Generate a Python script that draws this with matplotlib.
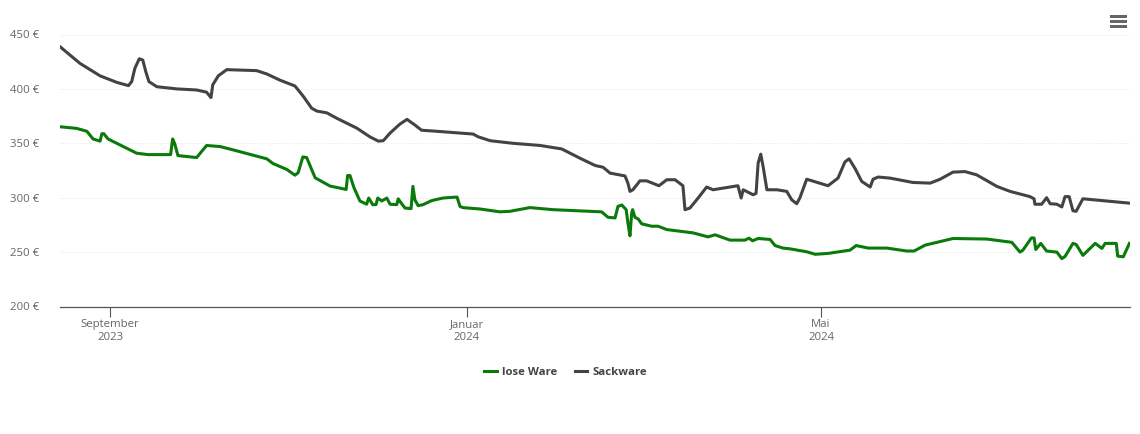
import matplotlib
matplotlib.use("Agg")
import matplotlib.pyplot as plt
import matplotlib.dates as mdates
from matplotlib.lines import Line2D
from matplotlib.patches import Rectangle
import pandas as pd

START = pd.Timestamp("2023-09-01")

sack_days = [-17.1,-10.3,-3.4,2.3,6.3,7.4,8.5,10.0,11.2,12.2,13.3,16.0,22.8,29.6,33.0,34.5,35.1,37.0,39.9,50.1,53.6,58.1,63.2,66.1,68.9,70.7,74.1,77.5,84.3,88.9,91.7,93.4,95.7,99.1,101.5,104.2,106.5,110.4,124.1,125.8,129.9,137.7,147.0,154.4,160.6,165.8,168.5,170.9,176.0,177.0,177.7,178.7,181.1,183.4,187.6,190.3,193.1,195.8,196.5,198.2,201.0,203.9,206.1,214.6,215.7,216.4,219.8,220.8,221.5,222.4,223.2,224.5,227.9,231.3,233.0,234.7,235.8,238.1,245.4,248.8,251.2,252.6,254.6,256.9,259.8,260.8,262.5,266.6,274.4,280.3,283.7,288.1,292.2,296.2,303.1,307.6,314.4,315.8,316.1,318.4,320.1,321.3,323.6,325.3,326.4,327.8,329.1,330.2,332.5,348.4]
sack_vals = [438.8,423.5,412,406,403,406.7,419,427.7,426.5,416,406.7,402,400,399,397,392,403.7,412,417.7,416.8,413.7,408,402.7,393,382.3,379.6,378,373,364,355.8,352,352.4,359.4,367.7,372,366.8,362,361.3,358.5,356,352.4,350,348,344.8,336.3,329.6,328,322.6,320,313.4,305.8,307.3,315.5,315.5,311,316.5,316.5,311,289,290.5,299.7,309.8,307.3,311,299.7,307.3,302.7,304,331.7,340,328.7,307.3,307.3,305.8,298,294.5,300,317,311,318,333,335.7,327,315,309.8,317,319,318,314,313.4,317,323.5,324,321,310.4,305.8,301,299,294,294,300,294.5,294,291.5,301,301,288,287.5,299,295]

lose_days = [-17.1,-11.4,-7.9,-5.8,-3.4,-2.8,-2.1,-0.7,9.1,13.0,20.7,21.4,22.1,23.2,29.6,33.0,37.6,42.0,53.6,55.7,60.4,63.2,64.3,65.9,67.2,70.1,75.2,80.7,81.2,82.0,83.4,85.4,87.7,88.4,89.8,90.9,91.5,92.9,94.6,95.7,98.0,98.5,99.1,100.8,102.9,103.5,104.2,105.3,107.0,109.9,113.8,118.6,119.6,120.6,126.5,133.3,136.7,143.5,151.4,168.0,170.2,172.6,173.6,174.9,176.4,177.0,177.7,178.3,178.6,179.4,180.5,181.7,185.1,187.3,190.3,199.2,204.4,206.8,211.9,217.0,218.4,219.6,221.5,225.6,227.3,230.0,232.4,238.1,241.0,245.4,252.9,255.0,259.1,265.5,272.3,274.8,278.6,288.1,299.6,308.2,311.0,312.0,314.9,315.8,316.4,318.1,320.1,323.6,325.3,326.4,329.1,330.2,332.5,336.7,339.0,340.1,343.9,344.4,346.3,348.4]
lose_vals = [365.2,363.7,361,354,352,358.8,358.8,354,340.9,339.6,339.6,354,349.7,338.7,336.9,348,347,344,335.7,331.4,326,320.7,323,337.5,336.9,318.3,310.7,307.6,320.4,320.4,309,297,294,299.7,293.6,293.6,299.7,297,299.7,294,293.6,299,296.6,290.5,290,310.4,298,292.7,293.6,297.3,299.7,300.6,292,290.9,289.6,287,287.5,290.9,289,287,282,281.4,292,293.3,289,276.8,265,286,289,282,280.5,276,273.8,273.8,270.7,267.7,264,265.9,261,261,262.8,260.4,262.5,261.6,256,253.7,253,250.3,248,248.8,251.8,256,253.7,253.7,251,251,256.4,262.5,262,259,250,251.8,263,263,252.4,258,251,250,244,246,258,257,247,258,253.4,258,258,246.3,245.7,258]

y_ticks = [200, 250, 300, 350, 400, 450]
x_tick_dates = ["2023-09-01", "2024-01-01", "2024-05-01"]
x_tick_labels = ["September\n2023", "Januar\n2024", "Mai\n2024"]
series_names = ["lose Ware", "Sackware"]

GREEN = "#0a7a0a"
GREY = "#434343"
TEXT = "#666666"

plt.rcParams["font.family"] = ["Open Sans", "DejaVu Sans"]
W, H = 1140, 434
fig = plt.figure(figsize=(W / 100, H / 100), dpi=100, facecolor="white")
ax = fig.add_axes([60 / W, (H - 306.5) / H, 1070 / W, 296.5 / H])

to_dates = lambda days: START + pd.to_timedelta(days, unit="D")
ax.plot(to_dates(lose_days), lose_vals, color=GREEN, lw=2.2, solid_joinstyle="round", zorder=3)
ax.plot(to_dates(sack_days), sack_vals, color=GREY, lw=2.2, solid_joinstyle="round", zorder=3)

ax.set_xlim(to_dates([-17.1])[0], to_dates([348.6])[0])
ax.set_ylim(200, 200 + 296.5 / 1.088)
ax.set_yticks(y_ticks)
ax.set_yticklabels([f"{v} €" for v in y_ticks], fontsize=8.2, color=TEXT)
ax.set_xticks([mdates.date2num(pd.Timestamp(d)) for d in x_tick_dates])
ax.set_xticklabels(x_tick_labels, fontsize=8.2, color=TEXT, linespacing=1.25)
ax.tick_params(axis="y", length=0, pad=15)
ax.tick_params(axis="x", length=7.2, width=0.8, color="#555555", pad=2)
ax.grid(axis="y", color="#e6e6e6", lw=0.7, ls=(0, (1, 1.5)))
ax.set_axisbelow(True)
for s in ["top", "right", "left"]:
    ax.spines[s].set_visible(False)
ax.spines["bottom"].set_color("#555555")
ax.spines["bottom"].set_linewidth(0.9)

handles = [Line2D([0], [0], color=GREEN, lw=2.2), Line2D([0], [0], color=GREY, lw=2.2)]
leg = fig.legend(handles, series_names, loc="center", bbox_to_anchor=(565.5 / W, (H - 372.5) / H),
                 ncol=2, frameon=False, handlelength=1.1, handletextpad=0.45, columnspacing=1.55,
                 prop={"size": 8.2, "weight": "bold"})
for t in leg.get_texts():
    t.set_color("#444444")

for top in [15, 20, 25]:
    fig.add_artist(Rectangle((1110 / W, (H - top - 2.7) / H), 17 / W, 2.7 / H,
                             transform=fig.transFigure, color="#666666", lw=0))

fig.savefig("out.png", dpi=100)
